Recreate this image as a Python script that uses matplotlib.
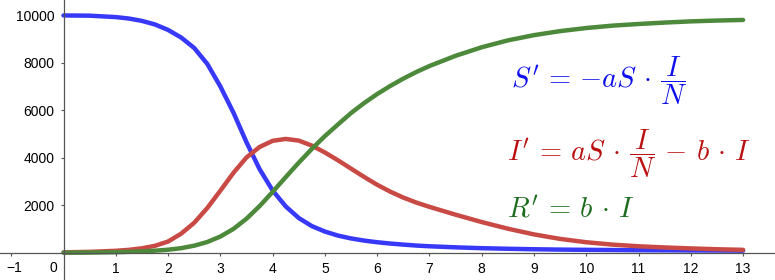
"""
SIR model curves (S, I, R) with the differential equations written beside them.
"""

import matplotlib
matplotlib.use('Agg')
import matplotlib.pyplot as plt

# Values
t = [0, 0.5, 1, 1.25, 1.5, 1.75, 2, 2.25, 2.5, 2.75, 3, 3.25, 3.5, 3.75, 4,
     4.25, 4.5, 4.75, 5, 5.25, 5.5, 5.75, 6, 6.25, 6.5, 6.75, 7, 7.5, 8,
     8.5, 9, 9.5, 10, 10.5, 11, 11.5, 12, 12.5, 13]
susceptible = [9990, 9980, 9920, 9860, 9760, 9610, 9380, 9060, 8620, 7950,
               7000, 5900, 4650, 3520, 2620, 1950, 1460, 1120, 890, 720, 600,
               510, 440, 385, 340, 300, 270, 225, 190, 165, 145, 130, 120,
               112, 105, 100, 95, 90, 85]
infected = [15, 35, 80, 120, 185, 290, 470, 800, 1260, 1880, 2610, 3360,
            4010, 4450, 4710, 4790, 4720, 4510, 4220, 3890, 3540, 3190, 2860,
            2570, 2320, 2110, 1930, 1600, 1290, 1010, 770, 580, 440, 340, 270,
            220, 180, 145, 120]
recovered = [0, 5, 20, 35, 55, 85, 125, 190, 295, 450, 680, 1000, 1430, 1960,
             2560, 3180, 3790, 4370, 4910, 5400, 5880, 6300, 6680, 7020, 7330,
             7610, 7860, 8290, 8650, 8940, 9160, 9330, 9460, 9560, 9630, 9690,
             9740, 9775, 9800]

x_ticks = list(range(-1, 14))
y_ticks = [2000, 4000, 6000, 8000, 10000]

eq_s = r"$S'\,=\,{-}aS\,\cdot\,\dfrac{I}{N}$"
eq_i = r"$I'\,=\,aS\,\cdot\,\dfrac{I}{N}\,-\,b\,\cdot\,I$"
eq_r = r"$R'\,=\,b\,\cdot\,I$"

plt.rcParams['mathtext.fontset'] = 'cm'
plt.rcParams['font.family'] = ['Liberation Sans', 'DejaVu Sans']

fig = plt.figure(figsize=(7.75, 2.8), dpi=100)
ax = fig.add_axes([0, 0, 1, 1])
ax.set_xlim(-1.215, 13.61)
ax.set_ylim(-1150, 10640)

# Curves
line_kw = dict(linewidth=3.2, solid_capstyle='round', solid_joinstyle='round')
ax.plot(t, susceptible, color='#3838f8', **line_kw)
ax.plot(t, infected, color='#c94a45', **line_kw)
ax.plot(t, recovered, color='#4d893b', **line_kw)

# Axes through the origin
for side in ('top', 'right'):
    ax.spines[side].set_visible(False)
for side in ('left', 'bottom'):
    ax.spines[side].set_position(('data', 0))
    ax.spines[side].set_color('#555555')
    ax.spines[side].set_linewidth(0.9)

ax.set_xticks(x_ticks)
ax.set_xticklabels(['' if v <= 0 else str(v) for v in x_ticks])
ax.set_yticks(y_ticks)
ax.set_yticklabels([str(v) for v in y_ticks])
ax.tick_params(axis='both', direction='out', length=2.5, width=0.8,
               color='#555555', labelsize=10, labelcolor='black')
ax.tick_params(axis='x', pad=4.5)
ax.tick_params(axis='y', pad=4)

# -1 and the origin label are placed by hand (origin sits below-left)
ax.text(-0.95, -330, '\u22121', ha='center', va='top', fontsize=10)
ax.text(-0.12, -330, '0', ha='right', va='top', fontsize=10)

# Equations
ax.text(511 / 775, 1 - 81 / 280, eq_s, transform=ax.transAxes,
        ha='left', va='center', fontsize=20.5, color='#1010ee')
ax.text(507 / 775, 1 - 154 / 280, eq_i, transform=ax.transAxes,
        ha='left', va='center', fontsize=20.5, color='#bb1010')
ax.text(507 / 775, 1 - 210 / 280, eq_r, transform=ax.transAxes,
        ha='left', va='center', fontsize=20.5, color='#1d6b1d')

plt.savefig('out.png', dpi=100)
plt.close()
